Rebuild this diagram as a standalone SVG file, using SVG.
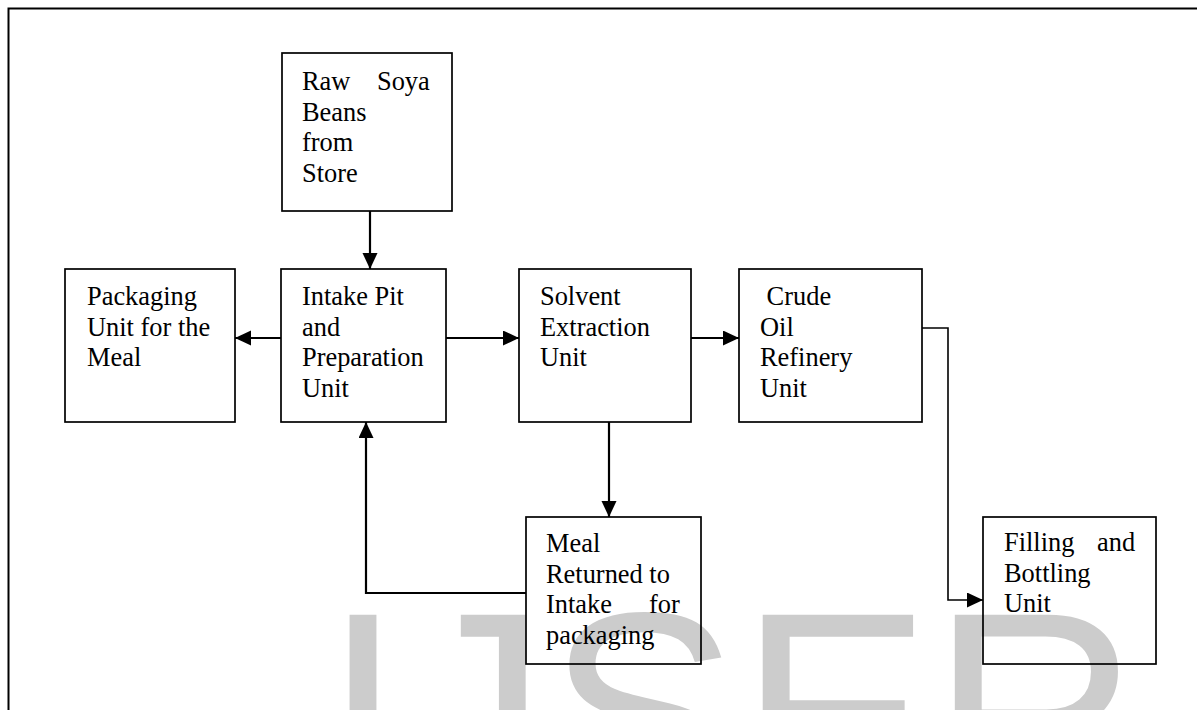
<svg xmlns="http://www.w3.org/2000/svg" width="1197" height="710" viewBox="0 0 1197 710">
<style>
.box{fill:none;stroke:#000;stroke-width:1.7}
.t{font-family:"Liberation Serif","Times New Roman",Times,serif;font-size:26.4px;fill:#000}
.wm{font-family:"Liberation Sans",Arial,sans-serif;font-size:288px;fill:#cccccc}
.c{fill:none;stroke:#000;stroke-width:2.2}
.c2{fill:none;stroke:#000;stroke-width:1.6}
</style>
<defs>
<marker id="ah" markerUnits="userSpaceOnUse" markerWidth="18" markerHeight="16" refX="16" refY="7.5" orient="auto">
<path d="M0,0 L16,7.5 L0,15 Z" fill="#000"/>
</marker>
</defs>
<rect width="1197" height="710" fill="#fff"/>
<text class="wm" x="323" y="813">IJSER</text>
<path d="M8.5,710 V8.5 H1197" fill="none" stroke="#000" stroke-width="2"/>
<g id="raw">
<rect class="box" x="282" y="53" width="170" height="158"/>
<text class="t"><tspan x="302" y="90">Raw</tspan><tspan x="377" y="90">Soya</tspan><tspan x="302" y="120.5">Beans</tspan><tspan x="302" y="151">from</tspan><tspan x="302" y="181.5">Store</tspan></text>
</g>
<g id="packaging">
<rect class="box" x="65" y="269" width="170" height="153"/>
<text class="t"><tspan x="87" y="305">Packaging</tspan><tspan x="87" y="335.5">Unit for the</tspan><tspan x="87" y="366">Meal</tspan></text>
</g>
<g id="intake">
<rect class="box" x="281" y="269" width="165" height="153"/>
<text class="t"><tspan x="302" y="305">Intake Pit</tspan><tspan x="302" y="335.5">and</tspan><tspan x="302" y="366">Preparation</tspan><tspan x="302" y="396.5">Unit</tspan></text>
</g>
<g id="solvent">
<rect class="box" x="519" y="269" width="172" height="153"/>
<text class="t"><tspan x="540" y="305">Solvent</tspan><tspan x="540" y="335.5">Extraction</tspan><tspan x="540" y="366">Unit</tspan></text>
</g>
<g id="crude">
<rect class="box" x="739" y="269" width="183" height="153"/>
<text class="t" xml:space="preserve"><tspan x="760" y="305"> Crude</tspan><tspan x="760" y="335.5">Oil</tspan><tspan x="760" y="366">Refinery</tspan><tspan x="760" y="396.5">Unit</tspan></text>
</g>
<g id="meal">
<rect class="box" x="526" y="517" width="175" height="147"/>
<text class="t"><tspan x="546" y="552">Meal</tspan><tspan x="546" y="582.5">Returned to</tspan><tspan x="546" y="613">Intake</tspan><tspan x="649" y="613">for</tspan><tspan x="546" y="643.5">packaging</tspan></text>
</g>
<g id="filling">
<rect class="box" x="983" y="517" width="173" height="147"/>
<text class="t"><tspan x="1004" y="551">Filling</tspan><tspan x="1097" y="551">and</tspan><tspan x="1004" y="581.5">Bottling</tspan><tspan x="1004" y="612">Unit</tspan></text>
</g>
<g id="connectors">
<path class="c" d="M370,211 V269" marker-end="url(#ah)"/>
<path class="c" d="M281,338 H235" marker-end="url(#ah)"/>
<path class="c" d="M446,338 H519" marker-end="url(#ah)"/>
<path class="c" d="M691,338 H739" marker-end="url(#ah)"/>
<path class="c" d="M609,422 V517" marker-end="url(#ah)"/>
<path class="c" d="M526,593 H366 V422" marker-end="url(#ah)"/>
<path class="c2" d="M922,328 H948 V600 H983" marker-end="url(#ah)"/>
</g>
</svg>
